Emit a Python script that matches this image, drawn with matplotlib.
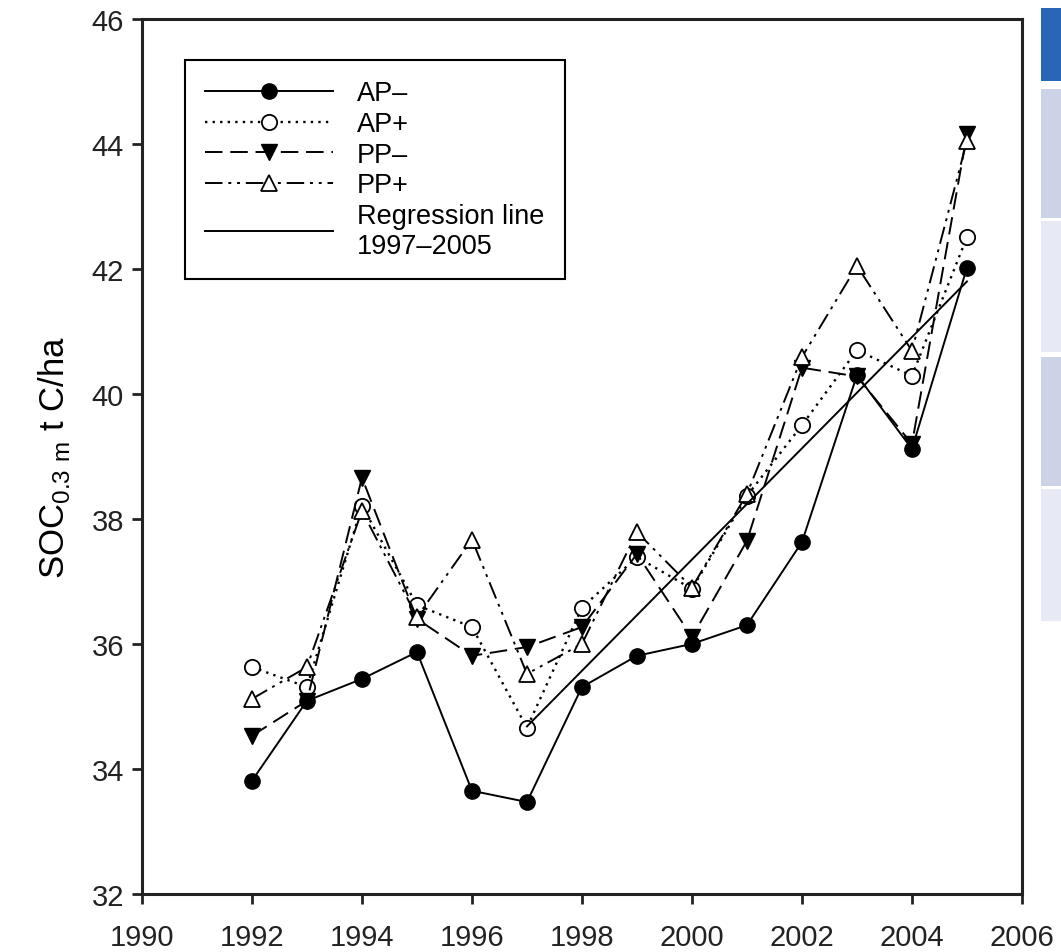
import matplotlib.pyplot as plt
from matplotlib.patches import Rectangle

plt.rcParams['font.family'] = ['Liberation Sans', 'DejaVu Sans']
plt.rcParams['mathtext.fontset'] = 'custom'
plt.rcParams['mathtext.rm'] = 'Liberation Sans'

years = [1992, 1993, 1994, 1995, 1996, 1997, 1998, 1999, 2000, 2001, 2002, 2003, 2004, 2005]
ap_minus = [33.81, 35.09, 35.44, 35.87, 33.65, 33.47, 35.31, 35.81, 36.00, 36.30, 37.63, 40.30, 39.12, 42.02]
ap_plus = [35.63, 35.31, 38.21, 36.62, 36.27, 34.66, 36.58, 37.39, 36.88, 38.37, 39.50, 40.70, 40.29, 42.51]
pp_minus = [34.53, 35.09, 38.66, 36.40, 35.81, 35.95, 36.27, 37.44, 36.11, 37.65, 40.42, 40.28, 39.20, 44.16]
pp_plus = [35.12, 35.63, 38.13, 36.43, 37.67, 35.52, 36.00, 37.79, 36.90, 38.40, 40.59, 42.05, 40.69, 44.05]
reg_years = [1997, 2005]
reg_values = [34.68, 41.80]

fig = plt.figure(figsize=(10.61, 9.53), dpi=100)
ax = fig.add_axes([0.1338, 0.061, 0.8294, 0.918])

ms = 11
ax.plot(years, ap_minus, '-', color='black', lw=1.4, marker='o', ms=ms,
        mfc='black', mec='black', label='AP\u2013')
ax.plot(years, ap_plus, color='black', lw=1.7, ls=(0, (1, 2.2)), marker='o', ms=ms,
        mfc='white', mec='black', mew=1.3, label='AP+')
ax.plot(years, pp_minus, color='black', lw=1.4, ls=(0, (9, 4)), marker='v', ms=ms + 1,
        mfc='black', mec='black', label='PP\u2013')
ax.plot(years, pp_plus, color='black', lw=1.4, ls=(0, (9, 3, 1.5, 3, 1.5, 3)), marker='^',
        ms=ms + 1, mfc='white', mec='black', mew=1.3, label='PP+')
ax.plot(reg_years, reg_values, '-', color='black', lw=1.4,
        label='Regression line\n1997\u20132005')

ax.set_xlim(1990, 2006)
ax.set_ylim(32, 46)
ax.set_xticks(range(1990, 2007, 2))
ax.set_yticks(range(32, 47, 2))
ax.tick_params(labelsize=21, width=2, length=7, direction='out', colors='#222222')
ax.tick_params(axis='x', pad=14)
ax.tick_params(axis='y', pad=6)
for sp in ax.spines.values():
    sp.set_linewidth(2.2)
    sp.set_color('#222222')
ax.set_ylabel(r'SOC$_{\rm 0.3\ m}$ t C/ha', fontsize=25, labelpad=14)

leg = ax.legend(loc='upper left', bbox_to_anchor=(0.049, 0.953), frameon=True,
                fancybox=False, edgecolor='black', framealpha=1, fontsize=19.5,
                handlelength=4.7, handletextpad=0.9, labelspacing=0.17,
                borderpad=0.75, numpoints=1, borderaxespad=0)
leg.get_frame().set_linewidth(1.5)

# strip of a neighbouring table at the right edge
strip = [(9, 82, '#2a66b8'), (90, 219, '#cdd3e6'), (222, 353, '#e7e9f4'),
         (358, 487, '#cdd3e6'), (490, 622, '#e7e9f4')]
for top, bottom, col in strip:
    fig.patches.append(Rectangle((1041 / 1061, 1 - bottom / 953), 20 / 1061,
                                 (bottom - top) / 953, transform=fig.transFigure,
                                 facecolor=col, edgecolor='none'))

fig.savefig('out.png', dpi=100)
